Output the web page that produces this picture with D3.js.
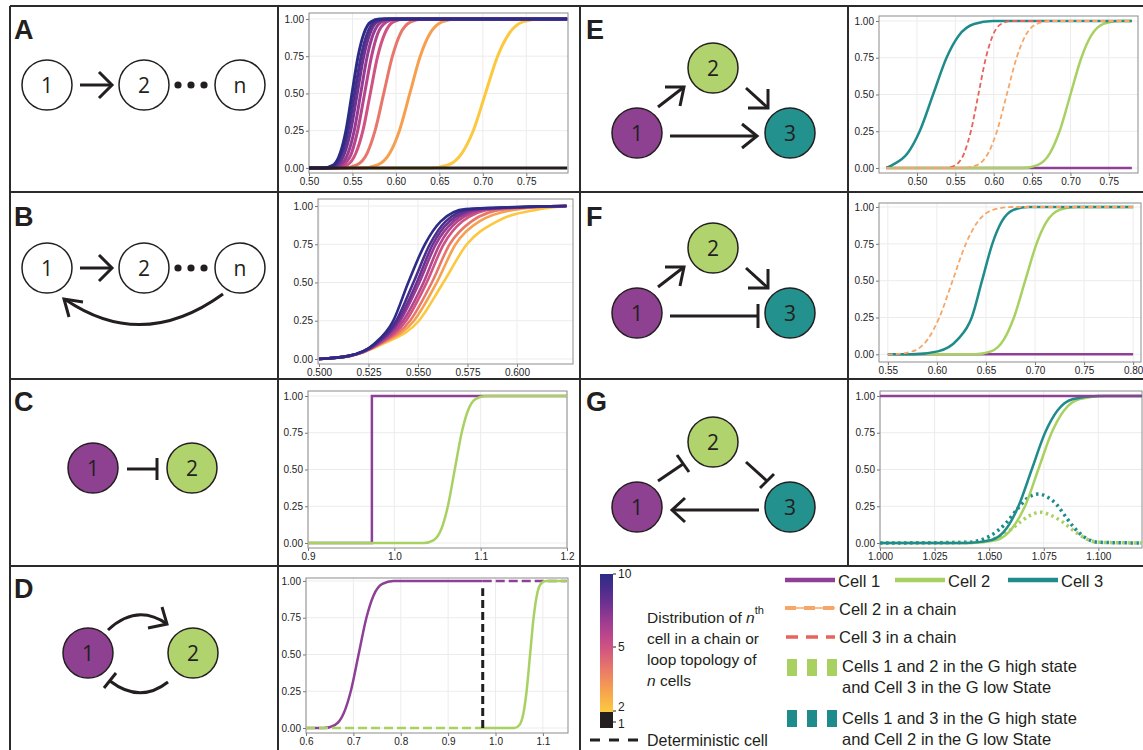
<!DOCTYPE html>
<html>
<head>
<script src="https://cdnjs.cloudflare.com/ajax/libs/d3/7.8.5/d3.min.js"></script>
<style>
  body { margin: 0; background: #fff; }
  svg { display: block; font-family: "Liberation Sans", Arial, sans-serif; }
</style>
</head>
<body>
<svg id="fig" width="1143" height="750"></svg>
<script>
// probability levels at which each curve's x position was read
const levels = [0, 0.02, 0.1, 0.25, 0.5, 0.75, 0.9, 0.98, 1];
const yTicks = [0, 0.25, 0.5, 0.75, 1];

// chain / loop length n and its colour
const chainN = [2, 3, 4, 5, 6, 7, 8, 9, 10];
const chainColors = ["#fcc840", "#f6a04f", "#e8776a", "#cf5283", "#b5448d", "#943a92", "#6d3190", "#4a2d8c", "#2b2c86"];
const detColor = "#231f20";

// A: chain of n cells
const aRange = [0.50, 0.797];
const aCurves = [
  [0.640, 0.660, 0.676, 0.689, 0.703, 0.717, 0.730, 0.746, 0.766],
  [0.562, 0.579, 0.593, 0.604, 0.616, 0.628, 0.639, 0.653, 0.670],
  [0.541, 0.555, 0.567, 0.576, 0.586, 0.596, 0.605, 0.617, 0.631],
  [0.531, 0.544, 0.554, 0.562, 0.5705, 0.579, 0.587, 0.597, 0.610],
  [0.528, 0.539, 0.549, 0.556, 0.564, 0.572, 0.579, 0.589, 0.600],
  [0.525, 0.536, 0.545, 0.552, 0.5595, 0.567, 0.574, 0.583, 0.594],
  [0.522, 0.533, 0.541, 0.548, 0.5555, 0.563, 0.570, 0.578, 0.589],
  [0.519, 0.530, 0.538, 0.545, 0.5525, 0.560, 0.567, 0.575, 0.586],
  [0.516, 0.528, 0.536, 0.5425, 0.5495, 0.5565, 0.563, 0.571, 0.581]
];

// B: loop of n cells
const bRange = [0.500, 0.625];
const bCurves = [
  [0.500, 0.516, 0.5325, 0.5505, 0.5628, 0.5747, 0.590, 0.612, 0.625],
  [0.500, 0.516, 0.5315, 0.548, 0.5595, 0.569, 0.581, 0.601, 0.625],
  [0.500, 0.516, 0.531, 0.546, 0.5570, 0.566, 0.577, 0.594, 0.625],
  [0.500, 0.5155, 0.5305, 0.544, 0.5544, 0.563, 0.5725, 0.588, 0.625],
  [0.500, 0.5155, 0.530, 0.5425, 0.5528, 0.561, 0.570, 0.585, 0.625],
  [0.500, 0.5155, 0.5295, 0.541, 0.5507, 0.559, 0.568, 0.582, 0.625],
  [0.500, 0.515, 0.529, 0.540, 0.5494, 0.5575, 0.566, 0.580, 0.625],
  [0.500, 0.515, 0.5285, 0.539, 0.5477, 0.556, 0.564, 0.577, 0.625],
  [0.500, 0.515, 0.528, 0.5375, 0.5451, 0.5535, 0.5615, 0.574, 0.625]
];

// C: 1 -| 2
const cRange = [0.9, 1.2];
const cCell1X = [0.9, 0.974, 0.974, 1.2];
const cCell1Y = [0, 0, 1, 1];
const cCell2 = [1.034, 1.0457, 1.0548, 1.062, 1.070, 1.078, 1.0852, 1.0944, 1.106];

// D: 1 -> 2 -| 1
const dRange = [0.6, 1.15];
const dSwitch = 0.973;
const dCell1 = [0.6375, 0.6608, 0.6796, 0.6945, 0.711, 0.7275, 0.7424, 0.7612, 0.7845];
const dCell2 = [1.040, 1.0505, 1.0589, 1.0656, 1.073, 1.0804, 1.0871, 1.0955, 1.106];
const dDetX = [0.973, 0.973];
const dDetY = [0, 0.95];

// E: feed-forward
const eRange = [0.46, 0.78];
const eCell3 = [0.460, 0.4677, 0.4877, 0.5035, 0.521, 0.5385, 0.5543, 0.5743, 0.599];
const eChain3 = [0.5365, 0.5503, 0.5614, 0.5702, 0.580, 0.5898, 0.5986, 0.6097, 0.6235];
const eChain2 = [0.560, 0.578, 0.5927, 0.6042, 0.617, 0.6298, 0.6413, 0.656, 0.674];
const eCell2 = [0.637, 0.657, 0.6731, 0.6858, 0.700, 0.7142, 0.7269, 0.743, 0.763];

// F: incoherent feed-forward
const fRange = [0.55, 0.80];
const fChain2 = [0.553, 0.575, 0.5904, 0.6025, 0.616, 0.6295, 0.6416, 0.657, 0.676];
const fCell3 = [0.575, 0.601, 0.621, 0.6355, 0.646, 0.6565, 0.666, 0.678, 0.693];
const fCell2 = [0.639, 0.6551, 0.6682, 0.6785, 0.690, 0.7015, 0.7118, 0.7249, 0.741];

// G: repressilator-like loop
const gRange = [1.0, 1.12];
const gCell3 = [1.040, 1.051, 1.058, 1.0634, 1.0695, 1.0756, 1.0812, 1.0885, 1.100];
const gCell2 = [1.042, 1.0535, 1.0605, 1.0664, 1.0725, 1.0786, 1.0842, 1.0915, 1.103];
const gHigh13X = [1.000, 1.040, 1.050, 1.058, 1.0634, 1.068, 1.0725, 1.077, 1.081, 1.085, 1.0886, 1.0947, 1.100, 1.120];
const gHigh13Y = [0, 0.005, 0.045, 0.14, 0.24, 0.31, 0.333, 0.31, 0.26, 0.18, 0.11, 0.03, 0.005, 0];
const gHigh12X = [1.000, 1.042, 1.050, 1.058, 1.064, 1.069, 1.0735, 1.078, 1.083, 1.089, 1.095, 1.100, 1.120];
const gHigh12Y = [0, 0.004, 0.02, 0.07, 0.14, 0.19, 0.21, 0.19, 0.15, 0.08, 0.025, 0.005, 0];

const ink = "#231f20";
const cPurple = "#8e3f96", cGreen = "#a8d162", cTeal = "#1f8b8b", cOrange = "#f6a768", cRed = "#e8635b";
const fillPurple = "#8f4191", fillGreen = "#b1d36d", fillTeal = "#23918e";

const svg = d3.select("#fig");
svg.append("rect").attr("width", 1143).attr("height", 750).attr("fill", "#fff");

function sig(xs, range) {
  const pts = xs.map((x, i) => [x, levels[i]]);
  if (range[0] < xs[0]) pts.unshift([range[0], 0]);
  if (range[1] > xs[xs.length - 1]) pts.push([range[1], 1]);
  return pts;
}
const zip = (xs, ys) => xs.map((x, i) => [x, ys[i]]);

function plot(p) {
  const [L, T, R, B] = p.box;
  const g = svg.append("g");
  const x = d3.scaleLinear().domain(p.xd).range([L, R]);
  const y = d3.scaleLinear().domain(p.yd).range([B, T]);

  g.selectAll("line.vg").data(p.xt).join("line").attr("class", "vg")
    .attr("x1", d => x(d)).attr("x2", d => x(d)).attr("y1", T).attr("y2", B)
    .attr("stroke", "#ececec");
  g.selectAll("line.hg").data(yTicks).join("line").attr("class", "hg")
    .attr("x1", L).attr("x2", R).attr("y1", d => y(d)).attr("y2", d => y(d))
    .attr("stroke", "#ececec");

  const xa = g.append("g").attr("transform", `translate(0,${B})`)
    .call(d3.axisBottom(x).tickValues(p.xt).tickFormat(d3.format(p.fmt)).tickSize(3).tickPadding(2));
  const ya = g.append("g").attr("transform", `translate(${L},0)`)
    .call(d3.axisLeft(y).tickValues(yTicks).tickFormat(d3.format(".2f")).tickSize(3).tickPadding(2));
  [xa, ya].forEach(a => {
    a.select(".domain").remove();
    a.attr("font-family", "Liberation Sans, Arial, sans-serif").attr("font-size", 10);
    a.selectAll(".tick line").attr("stroke", "#777");
    a.selectAll(".tick text").attr("fill", "#222");
  });

  g.append("rect").attr("x", L).attr("y", T).attr("width", R - L).attr("height", B - T)
    .attr("fill", "none").attr("stroke", "#8c8c8c").attr("stroke-width", 1);

  const line = d3.line().x(d => x(d[0])).y(d => y(d[1]));
  p.series.forEach(s => {
    g.append("path").datum(s.pts)
      .attr("fill", "none")
      .attr("stroke", s.color)
      .attr("stroke-width", s.w || 2.5)
      .attr("stroke-dasharray", s.dash || null)
      .attr("d", line.curve(s.linear ? d3.curveLinear : d3.curveMonotoneX));
  });
}

// ---------- plots ----------
plot({
  box: [309, 13, 568, 173], xd: [0.5, 0.798], yd: [-0.034, 1.04],
  xt: [0.50, 0.55, 0.60, 0.65, 0.70, 0.75], fmt: ".2f",
  series: aCurves.map((c, i) => ({ pts: sig(c, aRange), color: chainColors[i], w: 3 }))
    .concat([{ pts: [[aRange[0], 0], [aRange[1], 0]], color: detColor, w: 3, linear: true }])
});

plot({
  box: [318, 199, 573, 364], xd: [0.4995, 0.6283], yd: [-0.033, 1.046],
  xt: [0.500, 0.525, 0.550, 0.575, 0.600], fmt: ".3f",
  series: bCurves.map((c, i) => ({ pts: sig(c, bRange), color: chainColors[i], w: 2.6 }))
});

plot({
  box: [308, 391, 567, 548], xd: [0.9, 1.2], yd: [-0.034, 1.034],
  xt: [0.9, 1.0, 1.1, 1.2], fmt: ".1f",
  series: [
    { pts: zip(cCell1X, cCell1Y), color: cPurple, linear: true },
    { pts: sig(cCell2, cRange), color: cGreen }
  ]
});

plot({
  box: [306, 578, 568, 733], xd: [0.6, 1.153], yd: [-0.034, 1.02],
  xt: [0.6, 0.7, 0.8, 0.9, 1.0, 1.1], fmt: ".1f",
  series: [
    { pts: sig(dCell1, [dRange[0], dSwitch]), color: cPurple },
    { pts: [[dSwitch, 1], [dRange[1], 1]], color: cPurple, dash: "9,4", linear: true },
    { pts: [[dRange[0], 0], [dSwitch, 0]], color: cGreen, dash: "9,4", linear: true },
    { pts: sig(dCell2, [dSwitch, dRange[1]]), color: cGreen },
    { pts: zip(dDetX, dDetY), color: detColor, w: 3, dash: "8,4", linear: true }
  ]
});

plot({
  box: [879, 16, 1138, 173], xd: [0.4505, 0.788], yd: [-0.034, 1.034],
  xt: [0.50, 0.55, 0.60, 0.65, 0.70, 0.75], fmt: ".2f",
  series: [
    { pts: [[eRange[0], 0], [eRange[1], 0]], color: cPurple, linear: true },
    { pts: sig(eCell2, eRange), color: cGreen },
    { pts: sig(eCell3, eRange), color: cTeal },
    { pts: sig(eChain3, eRange), color: cRed, w: 1.8, dash: "5,3" },
    { pts: sig(eChain2, eRange), color: cOrange, w: 1.8, dash: "5,3" }
  ]
});

plot({
  box: [879, 203, 1141, 362], xd: [0.541, 0.808], yd: [-0.052, 1.027],
  xt: [0.55, 0.60, 0.65, 0.70, 0.75, 0.80], fmt: ".2f",
  series: [
    { pts: [[fRange[0], 0], [fRange[1], 0]], color: cPurple, linear: true },
    { pts: sig(fCell2, fRange), color: cGreen },
    { pts: sig(fCell3, fRange), color: cTeal },
    { pts: sig(fChain2, fRange), color: cOrange, w: 1.8, dash: "5,3" }
  ]
});

plot({
  box: [880, 391, 1142, 548], xd: [1.0, 1.12], yd: [-0.034, 1.034],
  xt: [1.000, 1.025, 1.050, 1.075, 1.100], fmt: ".3f",
  series: [
    { pts: zip(gHigh12X, gHigh12Y), color: cGreen, w: 3.5, dash: "2.5,3.5" },
    { pts: zip(gHigh13X, gHigh13Y), color: cTeal, w: 3.5, dash: "2.5,3.5" },
    { pts: sig(gCell2, gRange), color: cGreen },
    { pts: sig(gCell3, gRange), color: cTeal },
    { pts: [[gRange[0], 1], [gRange[1], 1]], color: cPurple, linear: true }
  ]
});

// ---------- network diagrams ----------
const dg = svg.append("g");
const pen = d3.line();
function stroke(pts, w) {
  dg.append("path").attr("d", pen(pts)).attr("fill", "none")
    .attr("stroke", ink).attr("stroke-width", w || 3);
}
function curve(d) {
  dg.append("path").attr("d", d).attr("fill", "none").attr("stroke", ink).attr("stroke-width", 3);
}
function node(cx, cy, fill, label) {
  dg.append("circle").attr("cx", cx).attr("cy", cy).attr("r", 25)
    .attr("fill", fill).attr("stroke", ink).attr("stroke-width", 1.5);
  dg.append("text").attr("x", cx).attr("y", cy).attr("dy", "0.36em")
    .attr("text-anchor", "middle").attr("font-family", "Open Sans, sans-serif")
    .attr("font-size", 21).attr("fill", ink).text(label);
}
function dots(y) {
  [178, 191, 204].forEach(x => dg.append("circle").attr("cx", x).attr("cy", y).attr("r", 3.6).attr("fill", ink));
}

// A
node(47, 85, "#fff", "1"); node(144, 85, "#fff", "2"); node(240, 85, "#fff", "n");
stroke([[80, 85], [112, 85]]); stroke([[99, 72], [112, 85], [99, 98]]); dots(85);
// B
node(47, 268, "#fff", "1"); node(144, 268, "#fff", "2"); node(240, 268, "#fff", "n");
stroke([[80, 268], [112, 268]]); stroke([[99, 255], [112, 268], [99, 281]]); dots(268);
curve("M223,294 Q143,352 66,300"); stroke([[69, 317], [64, 299], [83, 302]]);
// C
node(93, 468, fillPurple, "1"); node(192, 468, fillGreen, "2");
stroke([[127, 469], [157, 469]]); stroke([[157, 458], [157, 480]]);
// D
node(88, 653, fillPurple, "1"); node(193, 653, fillGreen, "2");
curve("M108,630 Q137,603 167,624"); stroke([[162, 607], [167, 624], [148, 628]]);
curve("M168,682 Q140,704 110,681"); stroke([[104, 688], [116, 673]]);
// E
node(637, 133, fillPurple, "1"); node(713, 68, fillGreen, "2"); node(790, 133, fillTeal, "3");
stroke([[658, 107], [684, 87]]); stroke([[665, 87], [684, 87], [680, 106]]);
stroke([[746, 88], [768, 108]]); stroke([[748, 108], [768, 108], [768, 89]]);
stroke([[670, 136], [757, 136]]); stroke([[742, 124], [757, 136], [742, 148]]);
// F
node(637, 313, fillPurple, "1"); node(713, 248, fillGreen, "2"); node(790, 313, fillTeal, "3");
stroke([[658, 287], [684, 267]]); stroke([[665, 267], [684, 267], [680, 286]]);
stroke([[746, 268], [768, 288]]); stroke([[748, 288], [768, 288], [768, 269]]);
stroke([[670, 316], [758, 316]]); stroke([[758, 304], [758, 328]]);
// G
node(637, 507, fillPurple, "1"); node(713, 442, fillGreen, "2"); node(790, 507, fillTeal, "3");
stroke([[658, 481], [683, 464]]); stroke([[677, 455], [689, 472]]);
stroke([[746, 462], [767, 481]]); stroke([[760, 488], [774, 474]]);
stroke([[759, 510], [672, 510]]); stroke([[685, 498], [672, 510], [685, 522]]);

// ---------- panel frame and letters ----------
const frame = svg.append("g").attr("stroke", "#2b2b2b").attr("stroke-width", 2);
[6, 192, 379, 566].forEach(y => frame.append("line").attr("x1", 10).attr("x2", 1143).attr("y1", y).attr("y2", y));
[[10, 750], [278, 750], [580, 750], [848, 566]].forEach(([x, y2]) =>
  frame.append("line").attr("x1", x).attr("x2", x).attr("y1", 6).attr("y2", y2));

const letters = [["A", 14, 39], ["B", 14, 226], ["C", 14, 411], ["D", 14, 598],
                 ["E", 586, 39], ["F", 586, 226], ["G", 586, 411]];
svg.selectAll("text.letter").data(letters).join("text").attr("class", "letter")
  .attr("x", d => d[1]).attr("y", d => d[2]).text(d => d[0])
  .attr("font-size", 27).attr("font-weight", "bold").attr("fill", ink);

// ---------- legend ----------
const lg = svg.append("g").attr("fill", ink);
const cbY = d3.scaleLinear().domain([2, 5, 10]).range([711, 647, 574]);
const grad = svg.append("defs").append("linearGradient").attr("id", "cb")
  .attr("gradientUnits", "userSpaceOnUse").attr("x1", 0).attr("x2", 0).attr("y1", 712).attr("y2", 574);
chainN.forEach((n, i) => grad.append("stop")
  .attr("offset", (712 - cbY(n)) / (712 - 574)).attr("stop-color", chainColors[i]));
lg.append("rect").attr("x", 600).attr("y", 574).attr("width", 13).attr("height", 138).attr("fill", "url(#cb)");
lg.append("rect").attr("x", 600).attr("y", 712).attr("width", 13).attr("height", 16).attr("fill", detColor);
[[10, cbY(10), cbY(10)], [5, cbY(5), cbY(5)], [2, cbY(2), 707], [1, 722, 724]].forEach(([v, yy, ly]) => {
  lg.append("line").attr("x1", 613).attr("x2", 616).attr("y1", yy).attr("y2", yy).attr("stroke", ink);
  lg.append("text").attr("x", 618).attr("y", ly + 4).attr("font-size", 12).text(v);
});

const dist = lg.append("text").attr("font-size", 15.5);
const l1 = dist.append("tspan").attr("x", 647).attr("y", 623);
l1.append("tspan").text("Distribution of ");
l1.append("tspan").attr("font-style", "italic").text("n");
l1.append("tspan").attr("font-size", 11).attr("dy", -9).text("th");
dist.append("tspan").attr("x", 647).attr("y", 644).text("cell in a chain or");
dist.append("tspan").attr("x", 647).attr("y", 665).text("loop topology of");
const l4 = dist.append("tspan").attr("x", 647).attr("y", 686);
l4.append("tspan").attr("font-style", "italic").text("n");
l4.append("tspan").text(" cells");

lg.append("line").attr("x1", 590).attr("x2", 638).attr("y1", 740).attr("y2", 740)
  .attr("stroke", ink).attr("stroke-width", 3).attr("stroke-dasharray", "10,9");
lg.append("text").attr("x", 647).attr("y", 746).attr("font-size", 16).text("Deterministic cell");

const cellKeys = [["Cell 1", cPurple, 785], ["Cell 2", cGreen, 895], ["Cell 3", cTeal, 1008]];
cellKeys.forEach(([t, c, x0]) => {
  lg.append("line").attr("x1", x0).attr("x2", x0 + 50).attr("y1", 580).attr("y2", 580)
    .attr("stroke", c).attr("stroke-width", 4.5);
  lg.append("text").attr("x", x0 + 53).attr("y", 586.5).attr("font-size", 16.5).text(t);
});

lg.append("line").attr("x1", 785).attr("x2", 835).attr("y1", 608).attr("y2", 608)
  .attr("stroke", cOrange).attr("stroke-width", 1.5);
lg.append("line").attr("x1", 785).attr("x2", 835).attr("y1", 608).attr("y2", 608)
  .attr("stroke", cOrange).attr("stroke-width", 4).attr("stroke-dasharray", "11,8");
lg.append("text").attr("x", 839).attr("y", 614.5).attr("font-size", 16.5).text("Cell 2 in a chain");

lg.append("line").attr("x1", 786).attr("x2", 835).attr("y1", 637).attr("y2", 637)
  .attr("stroke", cRed).attr("stroke-width", 3.5).attr("stroke-dasharray", "12,8");
lg.append("text").attr("x", 839).attr("y", 643).attr("font-size", 16.5).text("Cell 3 in a chain");

const stateKeys = [
  [cGreen, 659, ["Cells 1 and 2 in the G high state", "and Cell 3 in the G low State"], 672],
  [cTeal, 710, ["Cells 1 and 3 in the G high state", "and Cell 2 in the G low State"], 724]
];
stateKeys.forEach(([c, y0, lines, base]) => {
  [787, 807, 827].forEach(x => lg.append("rect").attr("x", x).attr("y", y0)
    .attr("width", 10).attr("height", 17).attr("fill", c));
  lines.forEach((t, i) => lg.append("text").attr("x", 842).attr("y", base + i * 20.5)
    .attr("font-size", 16.5).text(t));
});
</script>
</body>
</html>
